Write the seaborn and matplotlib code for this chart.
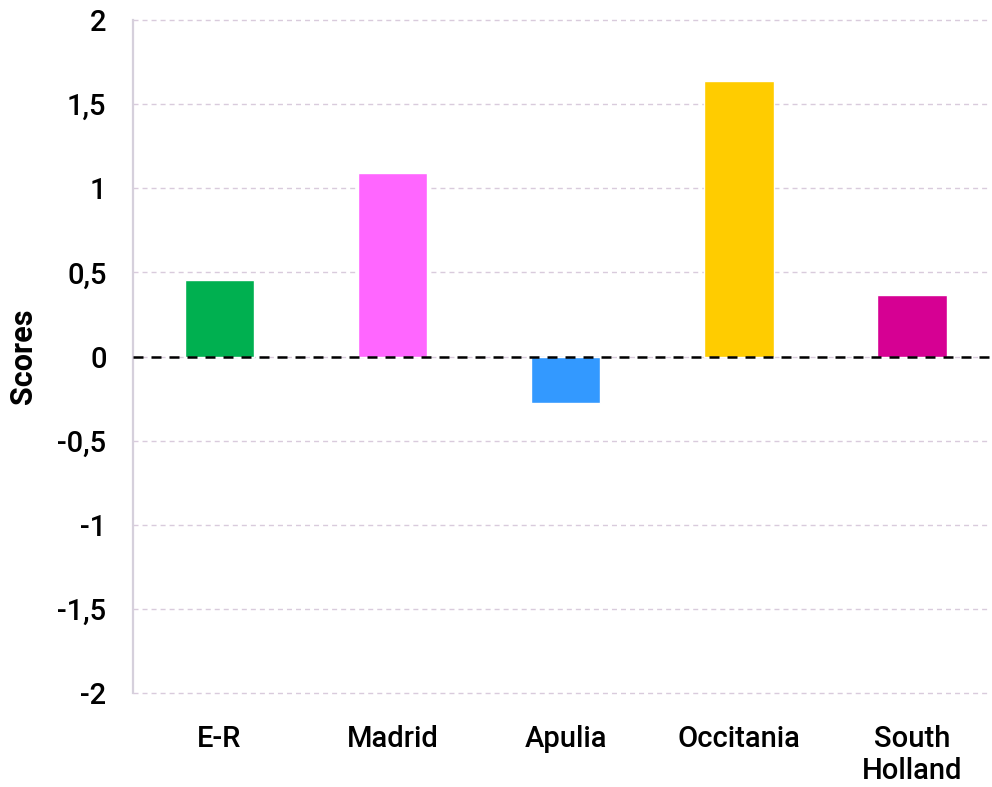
import matplotlib
matplotlib.use("Agg")
import matplotlib.pyplot as plt
from matplotlib.ticker import FuncFormatter, MultipleLocator
import seaborn as sns
import pandas as pd

regions = ["E-R", "Madrid", "Apulia", "Occitania", "South\nHolland"]
scores = [0.455, 1.09, -0.275, 1.64, 0.365]
bar_colors = ["#00b050", "#ff66ff", "#3399ff", "#ffcc00", "#d60093"]

sns.set_theme(style="white")
plt.rcParams["font.family"] = ["Roboto", "DejaVu Sans"]

df = pd.DataFrame({"region": regions, "score": scores})

fig = plt.figure(figsize=(9.92, 7.87), dpi=100)
ax = fig.add_axes([0.134, 0.1194, 0.864, 0.8552])

sns.barplot(data=df, x="region", y="score", hue="region", palette=bar_colors,
            width=0.4, legend=False, ax=ax, saturation=1, zorder=2)

ax.set_ylim(-2, 2)
ax.set_xlim(-0.5, 4.45)
ax.yaxis.set_major_locator(MultipleLocator(0.5))


def comma_fmt(v, _pos):
    s = f"{v:g}"
    return s.replace(".", ",")


ax.yaxis.set_major_formatter(FuncFormatter(comma_fmt))

ax.grid(axis="y", color="#d9cbdc", linewidth=1.0, linestyle=(0, (3.6, 2.9)), zorder=0)
for gl in ax.get_ygridlines():
    gl.set_clip_on(False)
ax.set_axisbelow(True)
ax.axhline(0, color="black", linewidth=1.8, linestyle=(0, (4, 3.2)), zorder=3)

for side in ["top", "right", "bottom"]:
    ax.spines[side].set_visible(False)
ax.spines["left"].set_color("#d6d0dc")
ax.spines["left"].set_linewidth(1.6)

ax.tick_params(axis="both", length=0, labelsize=21, colors="black")
ax.tick_params(axis="y", pad=19)
ax.tick_params(axis="x", pad=23)
for lab in ax.get_xticklabels() + ax.get_yticklabels():
    lab.set_fontweight("medium")
    lab.set_linespacing(1.2)

ax.set_xlabel("")
ax.set_ylabel("Scores", fontsize=22, fontweight="bold", labelpad=14, color="black")

fig.savefig("out.png", dpi=100)
